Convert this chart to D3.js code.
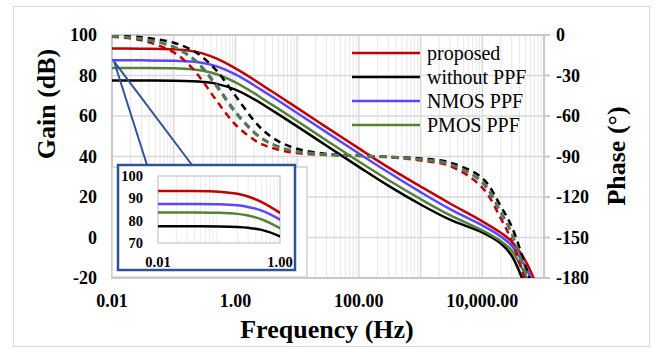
<!DOCTYPE html>
<html>
<head>
<meta charset="utf-8">
<script src="https://cdn.jsdelivr.net/npm/d3@7"></script>
<style>
  html, body { margin: 0; padding: 0; background: #fff; }
  svg { display: block; font-family: "Liberation Serif", "Times New Roman", serif; }
</style>
</head>
<body>
<svg id="chart" width="655" height="349"></svg>
<script>
// frequency points (Hz)
const freqs = [0.01, 0.03, 0.1, 0.2, 0.3, 0.5, 1, 2, 3, 5, 10, 30, 100, 300, 1000, 3000, 10000, 20000, 30000, 50000, 70000];

// gain (dB), solid lines
const gainProposed = [93.3, 93.27, 92.94, 92.03, 90.8, 88.3, 83.5, 77.9, 74.3, 70.0, 64.0, 54.4, 44.0, 34.6, 25.2, 16.8, 8.0, 2.3, -2.0, -11.5, -21.0];
const gainWithout  = [77.5, 77.5, 77.42, 77.2, 76.83, 75.87, 73.0, 68.3, 65.05, 60.8, 54.9, 45.3, 34.9, 25.6, 16.3, 8.8, 2.5, -3.0, -9.0, -24.0, -34.0];
const gainNmos     = [87.5, 87.48, 87.33, 86.86, 86.16, 84.5, 80.5, 75.2, 71.8, 67.5, 61.5, 51.9, 41.5, 32.2, 22.4, 14.0, 6.0, 0.5, -4.0, -14.5, -24.0];
const gainPmos     = [83.7, 83.68, 83.52, 83.04, 82.3, 80.6, 76.6, 71.3, 67.8, 63.5, 57.5, 47.9, 37.5, 28.4, 19.0, 11.0, 3.5, -1.8, -6.5, -18.5, -28.0];

// phase (deg), dashed lines
const phaseProposed = [-1.3, -3.9, -12.9, -24.6, -34.7, -48.9, -66.4, -77.6, -81.8, -85.0, -87.5, -88.8, -89.6, -90.5, -93, -97, -113, -136, -152.5, -182, -200];
const phaseWithout  = [-0.6, -1.7, -5.7, -11.3, -16.8, -26.6, -45.0, -63.4, -71.7, -78.8, -84.3, -88.1, -89.4, -90.2, -91.5, -94.5, -106, -127, -142, -171, -192];
const phaseNmos     = [-0.9, -2.7, -8.6, -16.9, -24.6, -37.3, -56.6, -71.7, -77.8, -82.6, -86.2, -88.5, -89.4, -90.3, -92, -95.5, -109.5, -132, -147.5, -176.5, -195];
const phasePmos     = [-0.9, -2.8, -9.0, -17.5, -25.5, -38.5, -57.7, -72.4, -78.3, -82.9, -86.4, -88.6, -89.5, -90.4, -92.2, -96, -108.5, -131, -146.5, -175.5, -194];

const seriesNames = ["proposed", "without PPF", "NMOS PPF", "PMOS PPF"];
const seriesColors = ["#c00000", "#000000", "#5b45ff", "#548235"];

const gainTicks = [-20, 0, 20, 40, 60, 80, 100];
const phaseTicks = [-180, -150, -120, -90, -60, -30, 0];
const freqTicks = [0.01, 1, 100, 10000];
const insetGainTicks = [70, 80, 90, 100];
const insetFreqTicks = [0.01, 1];

const series = [
  { name: seriesNames[0], color: seriesColors[0], gain: gainProposed, phase: phaseProposed },
  { name: seriesNames[1], color: seriesColors[1], gain: gainWithout, phase: phaseWithout },
  { name: seriesNames[2], color: seriesColors[2], gain: gainNmos, phase: phaseNmos },
  { name: seriesNames[3], color: seriesColors[3], gain: gainPmos, phase: phasePmos },
];

const svg = d3.select("#chart");
const plot = { left: 112, right: 544, top: 35, bottom: 278 };

const x = d3.scaleLog().domain([0.01, 1e5]).range([plot.left, plot.right]);
const y = d3.scaleLinear().domain([-20, 100]).range([plot.bottom, plot.top]);
const yR = d3.scaleLinear().domain([-180, 0]).range([plot.bottom, plot.top]);

const fmtFreq = d3.format(",.2f");

// outer chart border
svg.append("rect")
  .attr("x", 13.5).attr("y", 6.5).attr("width", 636).attr("height", 340)
  .attr("fill", "#fff").attr("stroke", "#d9d9d9");

// vertical grid (minor + major)
const minor = [];
const major = [];
for (let d = 0.01; d < 1e5 * 0.999; d *= 10) {
  major.push(d);
  for (let k = 2; k <= 9; k++) minor.push(d * k);
}
svg.append("g").selectAll("line").data(minor).enter().append("line")
  .attr("x1", (d) => x(d)).attr("x2", (d) => x(d))
  .attr("y1", plot.top).attr("y2", plot.bottom)
  .attr("stroke", "#e8e8e8").attr("stroke-width", 1);
svg.append("g").selectAll("line").data(major).enter().append("line")
  .attr("x1", (d) => x(d)).attr("x2", (d) => x(d))
  .attr("y1", plot.top).attr("y2", plot.bottom)
  .attr("stroke", "#d9d9d9").attr("stroke-width", 1.5);

// horizontal grid
svg.append("g").selectAll("line").data(gainTicks).enter().append("line")
  .attr("x1", plot.left).attr("x2", plot.right)
  .attr("y1", (d) => y(d)).attr("y2", (d) => y(d))
  .attr("stroke", "#d9d9d9").attr("stroke-width", 1.5);

// plot frame
svg.append("rect")
  .attr("x", plot.left).attr("y", plot.top)
  .attr("width", plot.right - plot.left).attr("height", plot.bottom - plot.top)
  .attr("fill", "none").attr("stroke", "#c8c8c8").attr("stroke-width", 2);

// right axis ticks
svg.append("g").selectAll("line").data(phaseTicks).enter().append("line")
  .attr("x1", plot.right).attr("x2", plot.right + 6)
  .attr("y1", (d) => yR(d)).attr("y2", (d) => yR(d))
  .attr("stroke", "#c8c8c8").attr("stroke-width", 2);

// tick labels
svg.append("g").selectAll("text").data(gainTicks).enter().append("text")
  .attr("x", 97).attr("y", (d) => y(d))
  .attr("text-anchor", "end").attr("dominant-baseline", "central")
  .attr("font-size", 18).attr("font-weight", "bold")
  .text((d) => d);

svg.append("g").selectAll("text").data(phaseTicks).enter().append("text")
  .attr("x", 556).attr("y", (d) => yR(d))
  .attr("text-anchor", "start").attr("dominant-baseline", "central")
  .attr("font-size", 18).attr("font-weight", "bold")
  .text((d) => d);

svg.append("g").selectAll("text").data(freqTicks).enter().append("text")
  .attr("x", (d) => x(d)).attr("y", 307)
  .attr("text-anchor", "middle")
  .attr("font-size", 18).attr("font-weight", "bold")
  .text((d) => fmtFreq(d));

// axis titles
svg.append("text")
  .attr("transform", "translate(55, 104) rotate(-90)")
  .attr("text-anchor", "middle")
  .attr("font-size", 26).attr("font-weight", "bold")
  .text("Gain (dB)");

svg.append("text")
  .attr("transform", "translate(625, 156) rotate(-90)")
  .attr("text-anchor", "middle")
  .attr("font-size", 26).attr("font-weight", "bold")
  .text("Phase (°)");

svg.append("text")
  .attr("x", 327).attr("y", 338)
  .attr("text-anchor", "middle")
  .attr("font-size", 26).attr("font-weight", "bold")
  .text("Frequency (Hz)");

// clip for the curves
svg.append("clipPath").attr("id", "plotClip")
  .append("rect")
  .attr("x", plot.left).attr("y", plot.top)
  .attr("width", plot.right - plot.left).attr("height", plot.bottom - plot.top);

const gainLine = d3.line()
  .x((d) => x(d[0])).y((d) => y(d[1]))
  .curve(d3.curveCatmullRom.alpha(0.5));
const phaseLine = d3.line()
  .x((d) => x(d[0])).y((d) => yR(d[1]))
  .curve(d3.curveCatmullRom.alpha(0.5));

const curves = svg.append("g").attr("clip-path", "url(#plotClip)");

series.forEach((s) => {
  curves.append("path")
    .datum(freqs.map((f, i) => [f, s.gain[i]]))
    .attr("d", gainLine)
    .attr("fill", "none").attr("stroke", s.color).attr("stroke-width", 2.5);
});
series.forEach((s) => {
  curves.append("path")
    .datum(freqs.map((f, i) => [f, s.phase[i]]))
    .attr("d", phaseLine)
    .attr("fill", "none").attr("stroke", s.color).attr("stroke-width", 2.5)
    .attr("stroke-dasharray", "7,5");
});

// legend
const legend = svg.append("g");
series.forEach((s, i) => {
  const ly = 53 + i * 24;
  legend.append("line")
    .attr("x1", 352).attr("x2", 420).attr("y1", ly).attr("y2", ly)
    .attr("stroke", s.color).attr("stroke-width", 2.5);
  legend.append("text")
    .attr("x", 427).attr("y", ly)
    .attr("dominant-baseline", "central")
    .attr("font-size", 20)
    .text(s.name);
});

// inset (zoom of the low-frequency gain)
const insetBlue = "#2f5496";
svg.append("rect")
  .attr("x", plot.left).attr("y", 167).attr("width", 307 - plot.left).attr("height", plot.bottom - 1 - 167)
  .attr("fill", "#fff").attr("stroke", "#d0d0d0").attr("stroke-width", 1.5);

// callout lines from the start of the NMOS curve
const cx0 = x(freqs[0]);
const cy0 = y(gainNmos[0]) + 1;
svg.append("line")
  .attr("x1", cx0 + 2).attr("y1", cy0).attr("x2", 147).attr("y2", 165)
  .attr("stroke", insetBlue).attr("stroke-width", 2);
svg.append("line")
  .attr("x1", cx0 + 2).attr("y1", cy0).attr("x2", 192).attr("y2", 165)
  .attr("stroke", insetBlue).attr("stroke-width", 2);

svg.append("rect")
  .attr("x", 118).attr("y", 165).attr("width", 177).attr("height", 105)
  .attr("fill", "#fff").attr("stroke", insetBlue).attr("stroke-width", 2.5);

const inset = { left: 158, right: 280, top: 176, bottom: 243 };
const xi = d3.scaleLog().domain([0.01, 1]).range([inset.left, inset.right]);
const yi = d3.scaleLinear().domain([70, 100]).range([inset.bottom, inset.top]);

const insetMinor = [];
for (let d = 0.01; d < 0.999; d *= 10) {
  for (let k = 2; k <= 9; k++) insetMinor.push(d * k);
}
svg.append("g").selectAll("line").data(insetMinor).enter().append("line")
  .attr("x1", (d) => xi(d)).attr("x2", (d) => xi(d))
  .attr("y1", inset.top).attr("y2", inset.bottom)
  .attr("stroke", "#ececec").attr("stroke-width", 1);

svg.append("rect")
  .attr("x", inset.left).attr("y", inset.top)
  .attr("width", inset.right - inset.left).attr("height", inset.bottom - inset.top)
  .attr("fill", "none").attr("stroke", "#d0d0d0").attr("stroke-width", 1.5);

svg.append("clipPath").attr("id", "insetClip")
  .append("rect")
  .attr("x", inset.left).attr("y", inset.top)
  .attr("width", inset.right - inset.left).attr("height", inset.bottom - inset.top);

const insetLine = d3.line()
  .x((d) => xi(d[0])).y((d) => yi(d[1]))
  .curve(d3.curveCatmullRom.alpha(0.5));
const insetCurves = svg.append("g").attr("clip-path", "url(#insetClip)");
series.forEach((s) => {
  insetCurves.append("path")
    .datum(freqs.map((f, i) => [f, s.gain[i]]).filter((d) => d[0] <= 3))
    .attr("d", insetLine)
    .attr("fill", "none").attr("stroke", s.color).attr("stroke-width", 2.5);
});

svg.append("g").selectAll("text").data(insetGainTicks).enter().append("text")
  .attr("x", 143).attr("y", (d) => yi(d))
  .attr("text-anchor", "end").attr("dominant-baseline", "central")
  .attr("font-size", 14.5).attr("font-weight", "bold")
  .text((d) => d);

svg.append("g").selectAll("text").data(insetFreqTicks).enter().append("text")
  .attr("x", (d) => xi(d)).attr("y", 267)
  .attr("text-anchor", "middle")
  .attr("font-size", 14.5).attr("font-weight", "bold")
  .text((d) => fmtFreq(d));
</script>
</body>
</html>
